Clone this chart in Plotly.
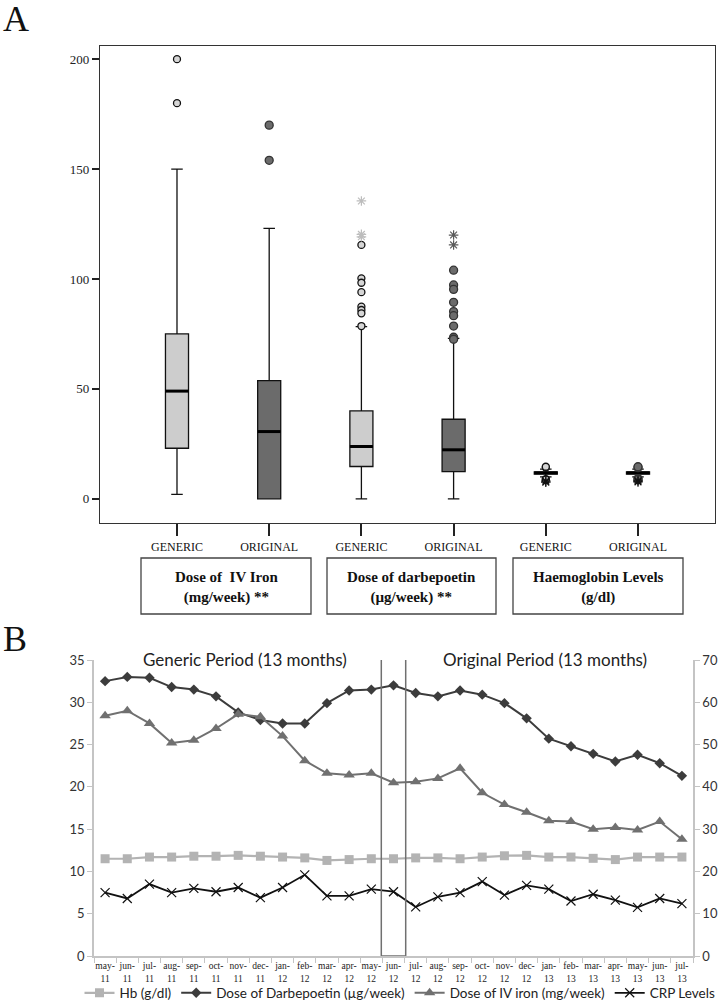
import plotly.graph_objects as go

# ---------------- Panel A data ----------------
box_groups = ["GENERIC", "ORIGINAL", "GENERIC", "ORIGINAL", "GENERIC", "ORIGINAL"]
box_pos = [0, 1, 2, 3, 4, 5]
box_q1 = [23, 0, 14.7, 12.4, 11.3, 11.3]
box_median = [49, 30.6, 23.8, 22.3, 11.8, 11.8]
box_q3 = [75, 53.8, 40, 36.2, 12.3, 12.3]
box_lower = [2, 0, 0, 0, 10.0, 10.0]
box_upper = [150, 123, 78.3, 73, 13.5, 13.5]
box_fill = ["#cdcdcd", "#6b6b6b", "#cdcdcd", "#6b6b6b", "#cdcdcd", "#6b6b6b"]

out_circles = [
    [180, 200],
    [154, 170],
    [115.5, 100.3, 98.3, 94, 87.4, 85.9, 84.4, 78.6],
    [104, 97.3, 95.3, 89.4, 85.2, 83.3, 78.6, 73.5, 72.6],
    [14.2, 14.6, 9.0, 8.7],
    [14.2, 14.6, 9.2, 8.8],
]
out_stars = [
    [],
    [],
    [135.5, 120.3, 119.2],
    [120, 115.5],
    [8.1, 7.6],
    [8.2, 7.7],
]

group_titles = ["<b>Dose of  IV Iron<br>(mg/week) **</b>",
                "<b>Dose of darbepoetin<br>(µg/week) **</b>",
                "<b>Haemoglobin Levels<br>(g/dl)</b>"]

# ---------------- Panel B data ----------------
months = ["may-<br>11", "jun-<br>11", "jul-<br>11", "aug-<br>11", "sep-<br>11", "oct-<br>11",
          "nov-<br>11", "dec-<br>11", "jan-<br>12", "feb-<br>12", "mar-<br>12", "apr-<br>12",
          "may-<br>12", "jun-<br>12", "jul-<br>12", "aug-<br>12", "sep-<br>12", "oct-<br>12",
          "nov-<br>12", "dec-<br>12", "jan-<br>13", "feb-<br>13", "mar-<br>13", "apr-<br>13",
          "may-<br>13", "jun-<br>13", "jul-<br>13"]
hb = [11.5, 11.5, 11.7, 11.7, 11.8, 11.8, 11.9, 11.8, 11.7, 11.6, 11.3, 11.4, 11.5,
      11.5, 11.6, 11.6, 11.5, 11.7, 11.85, 11.9, 11.7, 11.7, 11.55, 11.4, 11.7, 11.7, 11.7]
darbepoetin = [32.5, 33.0, 32.9, 31.8, 31.5, 30.7, 28.8, 27.9, 27.5, 27.5, 29.9, 31.4, 31.5,
               32.0, 31.1, 30.7, 31.4, 30.9, 29.9, 28.1, 25.7, 24.8, 23.9, 23.0, 23.8, 22.8, 21.3]
iv_iron = [56.8, 58.0, 55.0, 50.4, 51.0, 53.8, 57.2, 56.6, 52.0, 46.2, 43.2, 42.8, 43.2,
           41.0, 41.2, 42.0, 44.4, 38.6, 35.8, 34.0, 32.0, 31.8, 30.0, 30.4, 29.8, 31.8, 27.6]
crp = [15.0, 13.6, 17.0, 15.0, 16.0, 15.2, 16.2, 13.8, 16.2, 19.2, 14.2, 14.2, 15.8,
       15.2, 11.6, 14.0, 15.0, 17.6, 14.4, 16.7, 15.8, 13.0, 14.6, 13.2, 11.5, 13.6, 12.4]

fig = go.Figure()

# ---------------- Panel A traces ----------------
BW = 0.25
for i in range(len(box_pos)):
    fig.add_trace(go.Box(
        x=[box_pos[i]], q1=[box_q1[i]], median=[box_median[i]], q3=[box_q3[i]],
        lowerfence=[box_lower[i]], upperfence=[box_upper[i]],
        width=BW, whiskerwidth=0.5, boxpoints=False,
        fillcolor=box_fill[i], line=dict(color="#111111", width=1.3),
        xaxis="x", yaxis="y", showlegend=False, hoverinfo="skip"))
    # thick median line
    fig.add_trace(go.Scatter(
        x=[box_pos[i] - BW / 2, box_pos[i] + BW / 2], y=[box_median[i], box_median[i]],
        mode="lines", line=dict(color="#000000", width=3),
        xaxis="x", yaxis="y", showlegend=False, hoverinfo="skip"))
    generic = (i % 2 == 0)
    if out_circles[i]:
        fig.add_trace(go.Scatter(
            x=[box_pos[i]] * len(out_circles[i]), y=out_circles[i], mode="markers",
            marker=dict(symbol="circle", size=7 if generic else 8,
                        color="#d6d6d6" if generic else "#6b6b6b",
                        line=dict(color="#111111" if generic else "#333333", width=1.3)),
            xaxis="x", yaxis="y", showlegend=False, hoverinfo="skip"))
    if out_stars[i]:
        sc = "#bdbdbd" if generic else "#5a5a5a"
        if i >= 4:
            sc = "#111111"
        fig.add_trace(go.Scatter(
            x=[box_pos[i]] * len(out_stars[i]), y=out_stars[i], mode="markers",
            marker=dict(symbol="asterisk-open", size=8, color=sc,
                        line=dict(color=sc, width=1.2)),
            xaxis="x", yaxis="y", showlegend=False, hoverinfo="skip"))

# ---------------- Panel B traces ----------------
fig.add_trace(go.Scatter(
    x=months, y=hb, name="Hb (g/dl)", mode="lines+markers",
    line=dict(color="#b3b3b3", width=2.2),
    marker=dict(symbol="square", size=9, color="#b3b3b3"),
    xaxis="x2", yaxis="y2"))
fig.add_trace(go.Scatter(
    x=months, y=darbepoetin, name="Dose of Darbepoetin (µg/week)", mode="lines+markers",
    line=dict(color="#3c3c3c", width=2),
    marker=dict(symbol="diamond", size=8, color="#3c3c3c"),
    xaxis="x2", yaxis="y2"))
fig.add_trace(go.Scatter(
    x=months, y=iv_iron, name="Dose of IV iron (mg/week)", mode="lines+markers",
    line=dict(color="#707070", width=2),
    marker=dict(symbol="triangle-up", size=10, color="#707070"),
    xaxis="x2", yaxis="y3"))
fig.add_trace(go.Scatter(
    x=months, y=crp, name="CRP Levels", mode="lines+markers",
    line=dict(color="#111111", width=1.8),
    marker=dict(symbol="x-thin-open", size=9, color="#111111",
                line=dict(color="#111111", width=1.2)),
    xaxis="x2", yaxis="y3"))

W, H = 720, 1004


def px_x(p):
    return p / W


def px_y(p):
    return 1 - p / H


serif = "Liberation Serif"
sans = "Lato"

fig.update_layout(
    width=W, height=H,
    margin=dict(l=0, r=0, t=0, b=0, autoexpand=False),
    paper_bgcolor="white", plot_bgcolor="white",
    xaxis=dict(domain=[px_x(100), px_x(715)], range=[-0.835, 5.835],
               tickmode="array", tickvals=box_pos, ticktext=box_groups,
               ticks="outside", ticklen=12, tickwidth=1.5, tickcolor="#222",
               showline=True, mirror=True, linecolor="#333", linewidth=1.3,
               showgrid=False, zeroline=False, tickangle=0, automargin=False,
               tickfont=dict(family=serif, size=12, color="#111"), anchor="y"),
    yaxis=dict(domain=[px_y(523), px_y(46)], range=[-11, 206],
               tickmode="array", tickvals=[0, 50, 100, 150, 200],
               ticks="outside", ticklen=7, tickwidth=1.5, tickcolor="#222",
               showline=True, mirror=True, linecolor="#333", linewidth=1.3,
               showgrid=False, zeroline=False, automargin=False,
               tickfont=dict(family=serif, size=13, color="#222"), anchor="x"),
    xaxis2=dict(domain=[px_x(94), px_x(693)], type="category", range=[-0.5, 26.5],
                tickson="boundaries", ticks="outside", ticklen=5, tickcolor="#c4c4c4",
                showline=True, linecolor="#c4c4c4", linewidth=1.5,
                showgrid=False, zeroline=False, tickangle=0, automargin=False,
                tickfont=dict(family=serif, size=9.5, color="#222"), anchor="y2"),
    yaxis2=dict(domain=[px_y(956), px_y(660)], range=[0, 35],
                tickvals=[0, 5, 10, 15, 20, 25, 30, 35],
                ticks="outside", ticklen=5, tickcolor="#c4c4c4",
                showline=True, linecolor="#c4c4c4", linewidth=1.5,
                showgrid=False, zeroline=False, automargin=False,
                tickfont=dict(family=sans, size=13, color="#333"), anchor="x2"),
    yaxis3=dict(range=[0, 70], overlaying="y2", side="right",
                tickvals=[0, 10, 20, 30, 40, 50, 60, 70],
                ticks="outside", ticklen=5, tickcolor="#c4c4c4",
                showline=True, linecolor="#c4c4c4", linewidth=1.5,
                showgrid=False, zeroline=False, automargin=False,
                tickfont=dict(family=sans, size=13, color="#333"), anchor="x2"),
    legend=dict(orientation="h", x=px_x(400), xanchor="center", y=px_y(993), yanchor="middle",
                font=dict(family=sans, size=13.5, color="#222"), itemwidth=30,
                bgcolor="rgba(0,0,0,0)", tracegroupgap=0),
    showlegend=True,
)

# group label boxes under panel A
group_boxes = [(141, 311), (327, 496), (513, 683)]
for (x0, x1), t in zip(group_boxes, group_titles):
    fig.add_shape(type="rect", xref="paper", yref="paper",
                  x0=px_x(x0), x1=px_x(x1), y0=px_y(614), y1=px_y(558),
                  line=dict(color="#444", width=1.3), fillcolor="rgba(0,0,0,0)")
    fig.add_annotation(xref="paper", yref="paper", x=px_x((x0 + x1) / 2), y=px_y(587),
                       xanchor="center", yanchor="middle",
                       text=t, showarrow=False, align="center",
                       font=dict(family=serif, size=15, color="#111"))

# panel letters
fig.add_annotation(xref="paper", yref="paper", x=px_x(1), y=px_y(-3), xanchor="left",
                   yanchor="top", text="A", showarrow=False,
                   font=dict(family=serif, size=36, color="#111"))
fig.add_annotation(xref="paper", yref="paper", x=px_x(1), y=px_y(617), xanchor="left",
                   yanchor="top", text="B", showarrow=False,
                   font=dict(family=serif, size=36, color="#111"))

# period titles
fig.add_annotation(xref="paper", yref="paper", x=px_x(245), y=px_y(659),
                   xanchor="center", yanchor="middle",
                   text="Generic Period (13 months)", showarrow=False,
                   font=dict(family=sans, size=17, color="#222"))
fig.add_annotation(xref="paper", yref="paper", x=px_x(545), y=px_y(659),
                   xanchor="center", yanchor="middle",
                   text="Original Period (13 months)", showarrow=False,
                   font=dict(family=sans, size=17, color="#222"))

# switch month box (jun-12)
fig.add_shape(type="rect", xref="x2", yref="y2", x0=12.45, x1=13.55, y0=0, y1=36.4,
              line=dict(color="#707070", width=1.5), fillcolor="rgba(0,0,0,0)")

fig.write_html("out.html", config={"displayModeBar": False},
               post_script="document.body.style.margin='0px';document.body.style.overflow='hidden';")
